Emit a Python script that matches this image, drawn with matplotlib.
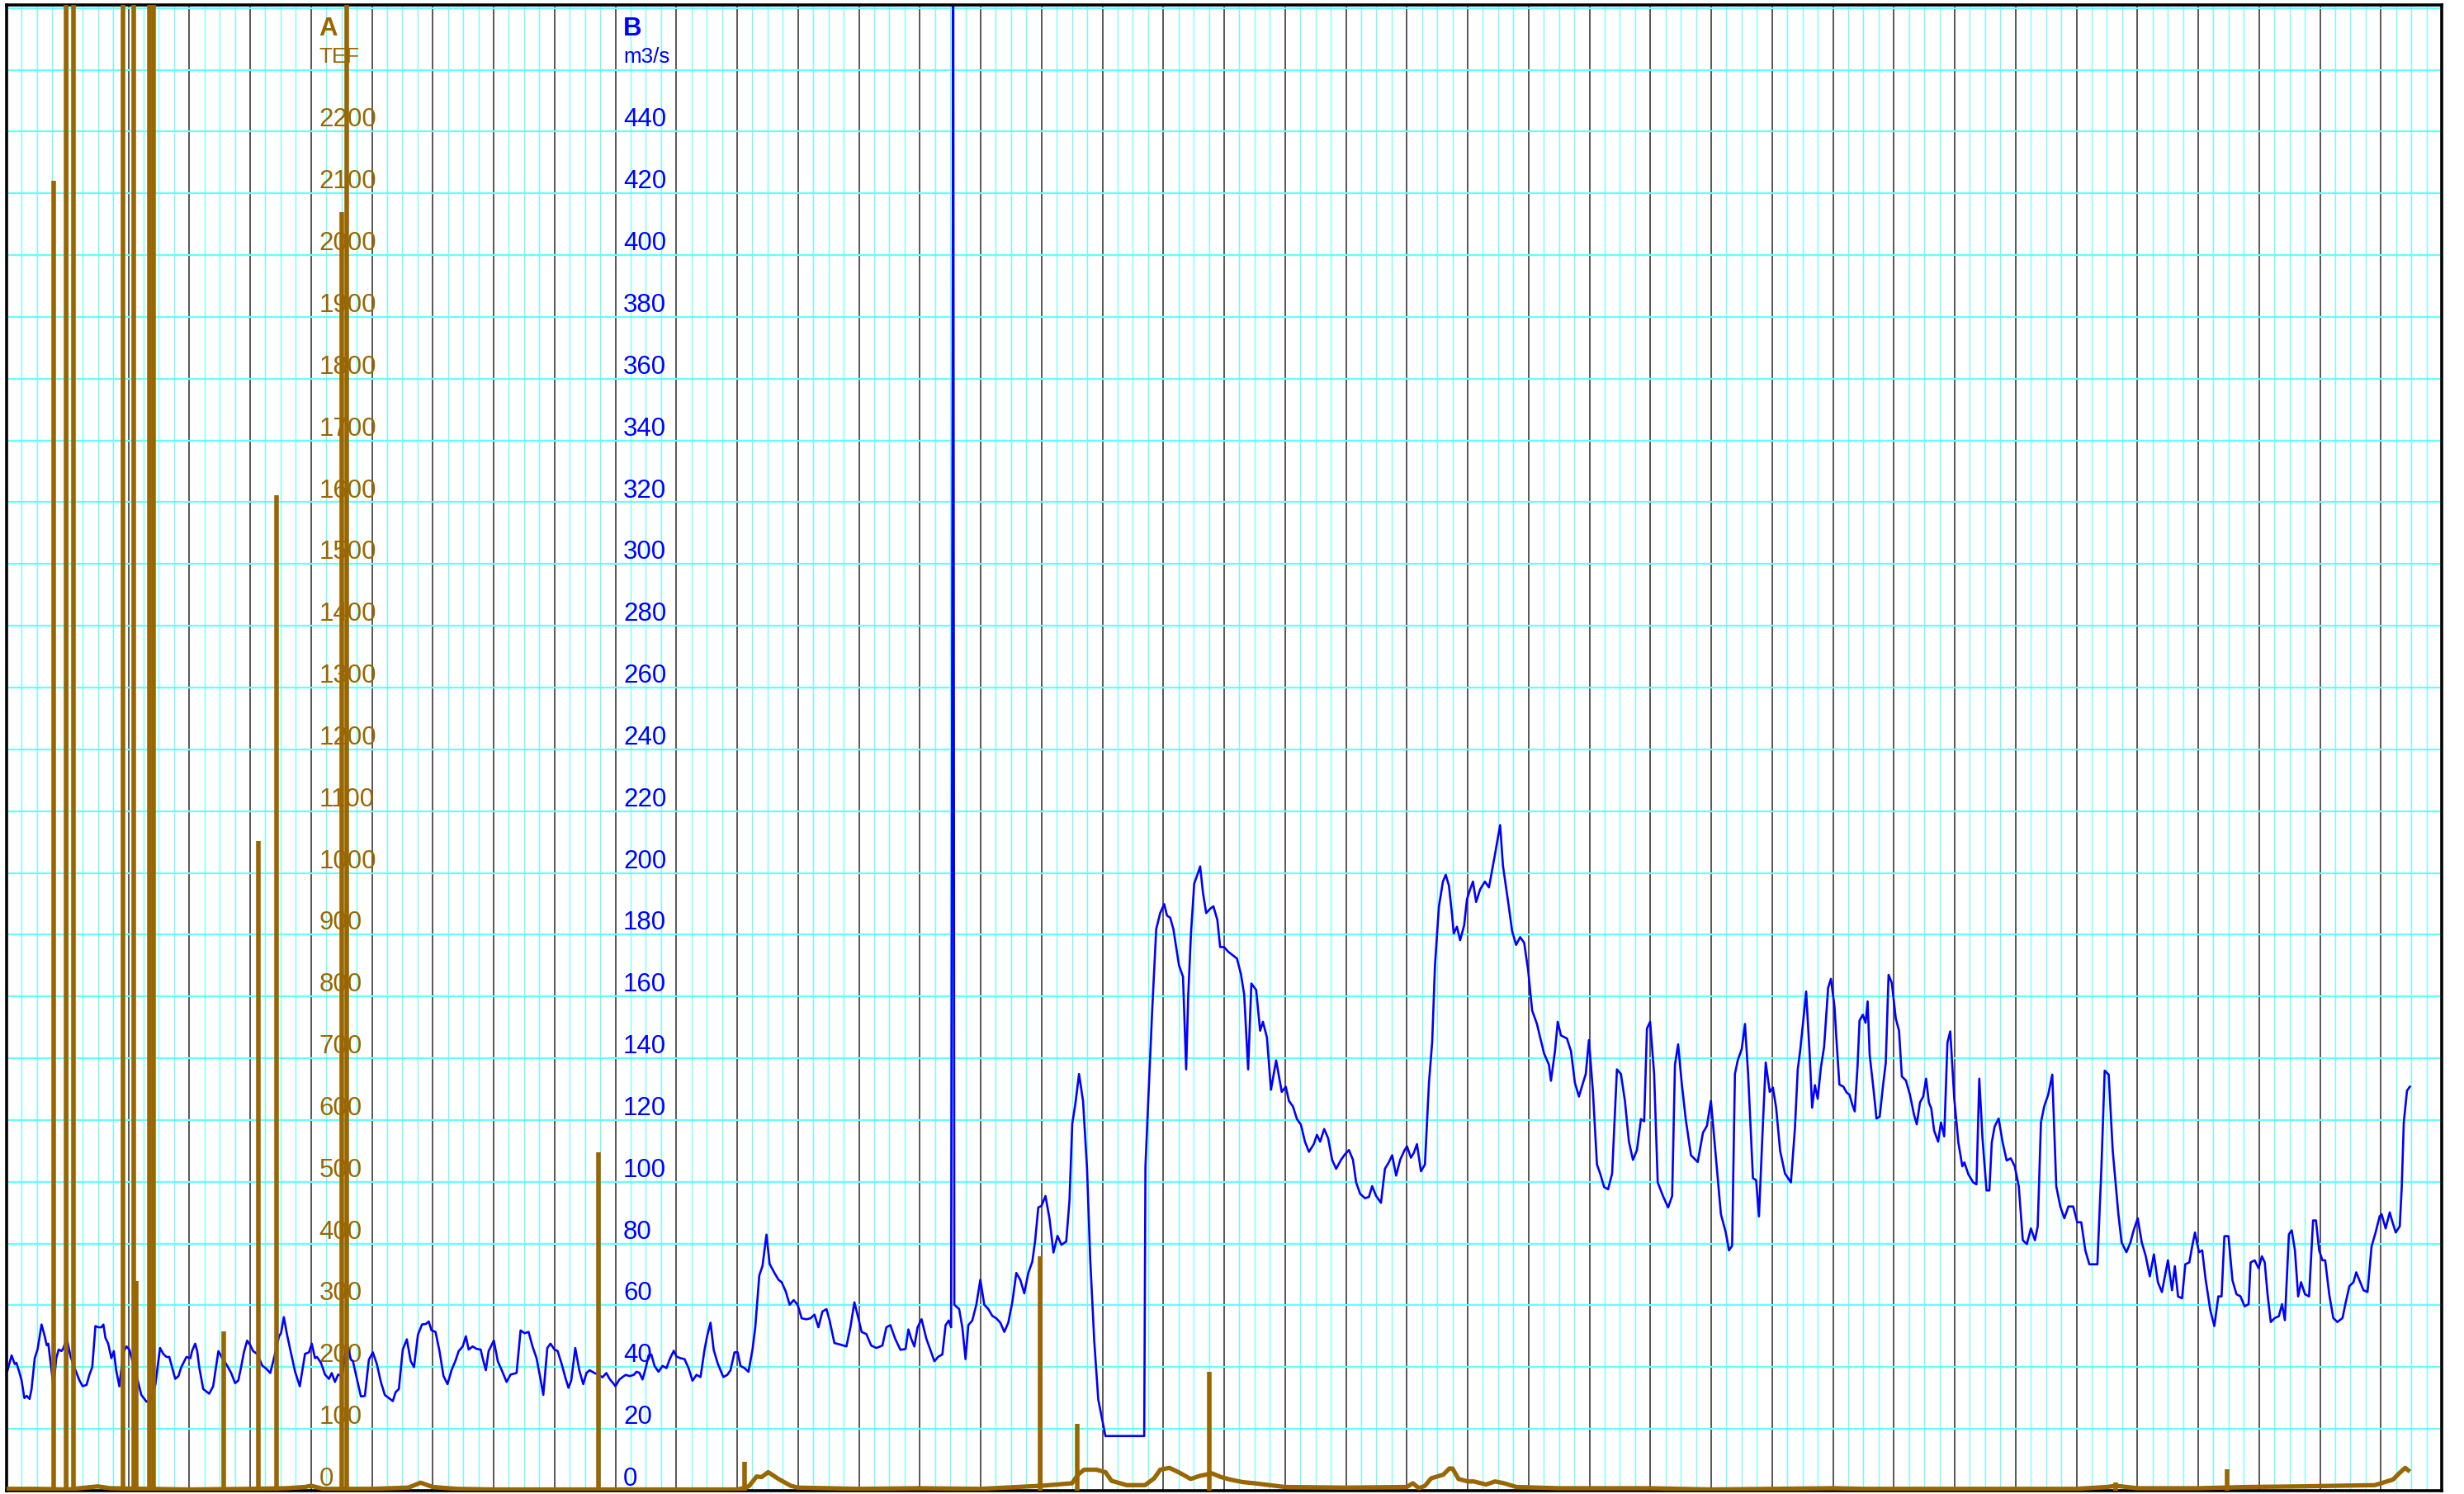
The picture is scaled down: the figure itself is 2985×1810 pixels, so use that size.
import matplotlib
matplotlib.use("Agg")
import matplotlib.pyplot as plt
from matplotlib.ticker import MultipleLocator

plt.rcParams['font.family'] = ['Liberation Sans', 'DejaVu Sans']

# x axis: days (one dark gridline per day), B = flow in m3/s (blue), A = TEF (brown)
flow_days = [
    0.016, 0.082, 0.134, 0.161, 0.213, 0.246, 0.292, 0.331, 0.377, 0.410,
    0.462, 0.508, 0.574, 0.620, 0.659, 0.685, 0.725, 0.770, 0.816, 0.856,
    0.902, 0.934, 0.987, 1.052, 1.131, 1.197, 1.249, 1.315, 1.361, 1.407,
    1.459, 1.511, 1.557, 1.590, 1.623, 1.669, 1.721, 1.761, 1.800, 1.852,
    1.918, 1.970, 2.016, 2.082, 2.148, 2.213, 2.298, 2.390, 2.443, 2.521,
    2.574, 2.626, 2.672, 2.718, 2.770, 2.823, 2.869, 2.954, 3.020, 3.046,
    3.098, 3.131, 3.164, 3.230, 3.328, 3.393, 3.439, 3.479, 3.544, 3.623,
    3.689, 3.754, 3.807, 3.852, 3.898, 3.951, 4.003, 4.049, 4.115, 4.200,
    4.266, 4.331, 4.397, 4.475, 4.508, 4.554, 4.607, 4.659, 4.738, 4.816,
    4.902, 4.967, 5.013, 5.066, 5.098, 5.164, 5.230, 5.295, 5.341, 5.393,
    5.446, 5.511, 5.590, 5.656, 5.689, 5.754, 5.820, 5.885, 5.951, 6.016,
    6.082, 6.148, 6.213, 6.279, 6.344, 6.390, 6.443, 6.508, 6.574, 6.639,
    6.692, 6.757, 6.823, 6.889, 6.934, 6.980, 7.046, 7.111, 7.177, 7.243,
    7.308, 7.374, 7.426, 7.492, 7.544, 7.590, 7.656, 7.721, 7.787, 7.820,
    7.872, 7.918, 8.003, 8.069, 8.134, 8.213, 8.279, 8.377, 8.443, 8.508,
    8.574, 8.639, 8.705, 8.770, 8.816, 8.882, 8.934, 9.000, 9.052, 9.118,
    9.184, 9.230, 9.275, 9.341, 9.407, 9.472, 9.525, 9.577, 9.656, 9.721,
    9.787, 9.852, 9.905, 9.984,
    10.000, 10.066, 10.118, 10.171, 10.236, 10.302, 10.348, 10.394, 10.446, 10.499,
    10.545, 10.591, 10.643, 10.709, 10.775, 10.840, 10.893, 10.959, 11.005, 11.070,
    11.136, 11.202, 11.267, 11.333, 11.399, 11.464, 11.510, 11.563, 11.615, 11.681,
    11.773, 11.838, 11.891, 11.957, 12.009, 12.055, 12.121, 12.186, 12.252, 12.298,
    12.364, 12.416, 12.482, 12.534, 12.613, 12.679, 12.731, 12.797, 12.863, 12.928,
    12.994, 13.060, 13.138, 13.204, 13.270, 13.335, 13.401, 13.467, 13.519, 13.598,
    13.697, 13.795, 13.861, 13.926, 13.992, 14.045, 14.123, 14.202, 14.288, 14.386,
    14.452, 14.517, 14.596, 14.682, 14.767, 14.813, 14.859, 14.911, 14.964, 15.030,
    15.108, 15.174, 15.240, 15.305, 15.371, 15.424, 15.476, 15.515, 15.550, 15.568,
    15.647, 15.699, 15.752, 15.798, 15.863, 15.929, 15.995, 16.060, 16.126, 16.192,
    16.257, 16.323, 16.389, 16.454, 16.520, 16.586, 16.651, 16.717, 16.783, 16.848,
    16.894, 16.947, 16.999, 17.065, 17.131, 17.196, 17.262, 17.328, 17.406, 17.459,
    17.505, 17.557, 17.616, 17.682, 17.748, 17.800, 17.866, 17.932, 18.050, 18.687,
    18.707, 18.753, 18.818, 18.884, 18.949, 19.015, 19.061, 19.114, 19.166, 19.212,
    19.258, 19.324, 19.376, 19.409, 19.455, 19.508, 19.560, 19.606, 19.652, 19.705,
    19.770, 19.823, 19.888, 19.934, 20.000, 20.066,
    20.145, 20.210, 20.276, 20.329, 20.394, 20.447, 20.526, 20.591, 20.637, 20.703,
    20.769, 20.854, 20.946, 21.012, 21.064, 21.130, 21.196, 21.261, 21.327, 21.393,
    21.472, 21.524, 21.577, 21.643, 21.708, 21.774, 21.840, 21.919, 21.984, 22.050,
    22.116, 22.168, 22.234, 22.313, 22.378, 22.431, 22.497, 22.576, 22.641, 22.707,
    22.760, 22.825, 22.891, 22.957, 23.003, 23.068, 23.114, 23.167, 23.233, 23.298,
    23.364, 23.417, 23.463, 23.528, 23.594, 23.640, 23.693, 23.745, 23.771, 23.824,
    23.876, 23.942, 23.988, 24.034, 24.087, 24.139, 24.205, 24.284, 24.350, 24.402,
    24.455, 24.533, 24.580, 24.665, 24.731, 24.796, 24.862, 24.928, 24.993, 25.059,
    25.138, 25.191, 25.256, 25.335, 25.368, 25.434, 25.480, 25.532, 25.631, 25.697,
    25.762, 25.828, 25.894, 25.940, 25.992, 26.058, 26.124, 26.176, 26.242, 26.307,
    26.373, 26.452, 26.518, 26.583, 26.649, 26.715, 26.781, 26.846, 26.899, 26.945,
    26.997, 27.063, 27.122, 27.208, 27.293, 27.359, 27.405, 27.457, 27.516, 27.582,
    27.668, 27.779, 27.865, 27.930, 27.996, 28.081, 28.160, 28.239, 28.292, 28.344,
    28.390, 28.436, 28.502, 28.555, 28.607, 28.686, 28.739, 28.785, 28.850, 28.896,
    28.962, 29.014, 29.067, 29.133, 29.212, 29.310, 29.376, 29.422, 29.461, 29.507,
    29.560, 29.619, 29.658, 29.704, 29.750, 29.803, 29.855, 29.921, 29.967,
    30.026, 30.053, 30.106, 30.172, 30.225, 30.272, 30.318, 30.358, 30.404, 30.437,
    30.490, 30.536, 30.570, 30.603, 30.669, 30.715, 30.768, 30.821, 30.868, 30.914,
    30.967, 31.033, 31.086, 31.132, 31.199, 31.265, 31.331, 31.377, 31.430, 31.483,
    31.530, 31.576, 31.616, 31.662, 31.728, 31.775, 31.828, 31.881, 31.927, 31.993,
    32.060, 32.126, 32.159, 32.225, 32.305, 32.358, 32.404, 32.457, 32.523, 32.570,
    32.609, 32.656, 32.722, 32.788, 32.854, 32.921, 32.987, 33.053, 33.119, 33.185,
    33.252, 33.318, 33.364, 33.417, 33.470, 33.536, 33.603, 33.669, 33.735, 33.801,
    33.868, 33.947, 34.013, 34.079, 34.146, 34.212, 34.278, 34.344, 34.411, 34.464,
    34.530, 34.596, 34.689, 34.742, 34.821, 34.887, 34.940, 35.007, 35.073, 35.139,
    35.205, 35.272, 35.338, 35.404, 35.503, 35.570, 35.616, 35.669, 35.735, 35.788,
    35.854, 35.901, 35.947, 36.013, 36.066, 36.119, 36.199, 36.265, 36.331, 36.384,
    36.430, 36.497, 36.563, 36.629, 36.695, 36.762, 36.828, 36.861, 36.927, 36.993,
    37.046, 37.093, 37.139, 37.192, 37.258, 37.325, 37.377, 37.424, 37.490, 37.536,
    37.589, 37.642, 37.689, 37.755, 37.821, 37.887, 37.934, 37.987, 38.040, 38.086,
    38.152, 38.219, 38.285, 38.371, 38.417, 38.483, 38.550, 38.596, 38.649, 38.715,
    38.781, 38.848, 38.914, 38.980, 39.013, 39.079, 39.146, 39.192, 39.245, 39.311,
    39.344, 39.377, 39.430, 39.477,
]
# 500 at day 15.55 = spike that runs off the top of the scale
flow_vals = [
    39.0, 43.8, 41.0, 41.4, 38.1, 35.7, 30.0, 30.7, 29.7, 32.9,
    42.9, 45.7, 53.8, 50.5, 47.1, 47.6, 41.0, 33.8, 42.9, 45.7,
    45.2, 46.2, 49.5, 43.3, 39.0, 35.7, 33.8, 34.3, 37.6, 40.0,
    53.3, 52.9, 52.9, 53.8, 49.5, 47.6, 42.9, 45.2, 39.0, 33.8,
    44.8, 46.7, 45.7, 41.0, 36.2, 31.0, 28.8, 30.0, 34.3, 46.2,
    44.3, 43.3, 43.3, 40.0, 36.2, 37.1, 40.0, 43.3, 42.9, 45.2,
    47.6, 45.2, 40.0, 32.9, 31.4, 33.8, 40.0, 45.2, 42.9, 40.5,
    38.1, 34.8, 35.7, 40.0, 44.8, 48.6, 47.1, 45.2, 44.3, 40.5,
    39.5, 38.1, 43.3, 50.0, 51.0, 56.2, 50.5, 45.7, 38.6, 33.8,
    44.3, 44.8, 47.6, 42.9, 43.3, 41.4, 37.6, 36.2, 38.1, 35.2,
    37.6, 37.1, 47.6, 42.4, 41.9, 36.2, 30.5, 30.7, 42.4, 44.8,
    41.0, 35.2, 31.0, 30.0, 29.0, 31.9, 32.9, 45.7, 49.0, 41.9,
    40.0, 50.5, 53.8, 54.0, 54.8, 51.9, 51.4, 45.2, 37.1, 34.5,
    39.0, 42.1, 45.2, 46.7, 50.0, 45.7, 46.7, 45.9, 45.7, 42.9,
    39.0, 45.2, 48.6, 41.9, 39.0, 35.2, 37.6, 38.1, 51.9, 51.0,
    51.4, 46.7, 42.9, 36.2, 31.0, 46.2, 47.6, 45.7, 45.2, 41.0,
    36.2, 33.3, 35.7, 46.2, 39.0, 34.5, 38.1, 39.0, 38.1, 37.6,
    36.7, 38.1, 36.2, 34.3,
    33.8, 36.0, 36.8, 37.5, 37.1, 37.5, 38.5, 38.2, 36.0, 39.7,
    43.8, 44.1, 40.4, 38.5, 40.4, 39.7, 42.6, 45.3, 43.4, 42.9,
    42.6, 39.7, 35.6, 37.5, 36.8, 45.6, 50.3, 54.4, 45.6, 41.2,
    36.8, 37.5, 39.0, 44.8, 44.8, 40.4, 39.7, 38.5, 45.6, 52.9,
    69.7, 72.7, 82.9, 73.4, 70.5, 68.3, 67.5, 64.6, 60.2, 61.7,
    60.2, 55.8, 55.5, 55.8, 57.0, 52.9, 58.0, 58.8, 55.1, 47.8,
    47.3, 46.7, 52.9, 61.0, 55.8, 51.4, 50.7, 47.0, 46.2, 47.0,
    52.9, 53.6, 49.2, 45.6, 45.9, 52.2, 49.2, 46.7, 52.9, 55.5,
    49.2, 45.6, 41.9, 43.4, 44.1, 53.6, 55.1, 52.9, 500.0, 60.2,
    58.8, 52.9, 42.6, 53.6, 55.1, 60.2, 68.3, 60.2, 58.8, 56.6,
    55.8, 54.4, 51.4, 54.4, 61.0, 70.5, 68.3, 63.9, 70.5, 74.1,
    80.7, 91.7, 92.2, 95.4, 88.1, 77.1, 82.5, 79.6, 80.7, 93.9,
    118.8, 125.4, 134.9, 126.2, 104.2, 74.9, 48.5, 29.5, 17.7, 17.7,
    104.9, 126.2, 155.5, 181.8, 187.0, 189.9, 186.2, 185.5, 181.8, 176.0,
    170.1, 166.4, 136.4, 159.9, 180.4, 196.5, 199.4, 202.1, 193.6, 187.0,
    188.4, 189.2, 184.8, 176.0, 176.0, 174.5,
    173.3, 172.3, 167.2, 160.6, 136.4, 164.2, 162.1, 148.9, 151.8, 146.7,
    129.8, 139.3, 129.1, 130.8, 126.2, 124.4, 120.3, 118.5, 113.0, 109.7,
    112.2, 115.2, 113.0, 117.1, 114.1, 107.1, 104.2, 107.1, 108.9, 110.3,
    107.1, 99.8, 96.1, 94.7, 95.1, 98.6, 95.4, 93.2, 104.2, 106.4,
    108.6, 102.0, 107.1, 110.0, 111.5, 107.8, 109.3, 112.2, 103.4, 105.6,
    132.0, 145.2, 170.1, 189.2, 197.2, 199.4, 195.8, 186.2, 180.4, 182.6,
    178.2, 183.0, 191.4, 194.3, 197.2, 190.6, 194.7, 197.2, 195.3, 200.9,
    206.7, 215.5, 202.3, 190.6, 181.1, 176.7, 179.2, 177.4, 168.6, 155.5,
    151.1, 146.7, 141.5, 137.9, 132.7, 142.3, 151.8, 147.4, 146.4, 142.3,
    132.0, 127.6, 132.0, 134.9, 145.9, 129.1, 105.6, 102.7, 98.3, 97.6,
    102.7, 136.4, 134.9, 126.2, 113.0, 107.1, 110.3, 120.3, 119.6, 149.6,
    151.8, 134.9, 99.8, 95.4, 91.7, 95.4, 137.9, 144.5, 132.0, 120.3,
    108.6, 106.4, 115.9, 118.1, 126.2, 107.1, 89.5, 83.7, 77.8, 79.3,
    134.9, 139.3, 143.0, 151.1, 134.9, 101.2, 100.5, 88.8, 118.8, 138.6,
    129.1, 130.5, 124.0, 110.0, 102.7, 99.8, 117.4, 136.4, 142.3, 151.1,
    161.6, 140.8, 124.0, 131.3, 126.9, 137.1, 143.7, 162.8, 165.7,
    156.7, 147.6, 131.5, 130.8, 128.9, 128.2, 125.0, 122.8, 137.3, 152.2,
    154.1, 151.5, 158.4, 141.2, 129.5, 120.5, 121.1, 130.8, 138.6, 167.0,
    164.4, 152.8, 148.9, 134.1, 132.8, 128.2, 121.8, 118.6, 125.7, 127.6,
    133.4, 125.7, 123.7, 116.6, 113.0, 119.2, 114.7, 145.1, 148.7, 127.0,
    112.7, 105.0, 106.3, 102.4, 99.8, 99.2, 133.4, 114.0, 97.2, 97.2,
    112.7, 117.9, 120.5, 112.7, 106.9, 107.6, 105.0, 98.5, 81.1, 79.8,
    84.9, 81.1, 85.6, 119.2, 124.4, 128.2, 134.7, 98.5, 92.0, 88.2,
    92.0, 92.0, 86.9, 86.9, 77.8, 73.3, 73.3, 73.3, 105.0, 136.0,
    134.7, 110.1, 89.5, 80.4, 77.2, 80.4, 84.3, 88.2, 80.4, 75.9,
    69.4, 76.5, 67.5, 64.3, 74.6, 64.9, 72.7, 62.9, 62.3, 73.3,
    73.9, 79.1, 83.6, 77.2, 77.8, 68.8, 58.4, 53.3, 62.9, 62.9,
    82.4, 82.4, 68.1, 63.6, 62.9, 59.7, 60.4, 73.9, 74.6, 72.0,
    75.9, 73.9, 63.6, 54.6, 55.9, 56.5, 60.4, 55.2, 83.0, 84.3,
    77.8, 62.9, 67.5, 63.6, 62.9, 87.5, 87.5, 77.8, 74.6, 74.6,
    63.6, 55.9, 54.6, 55.9, 60.4, 66.2, 67.5, 70.7, 68.1, 64.9,
    64.3, 79.1, 83.6, 88.8, 89.5, 84.9, 90.1, 86.9, 83.6, 85.6,
    98.5, 119.2, 129.5, 130.8,
]

# TEF background level
tef_days = [0.0, 0.5, 1.0, 1.5, 1.7, 2.3, 3.0, 4.0, 4.6, 4.9, 5.0, 5.2, 6.0, 6.6, 6.8,
            7.0, 7.4, 8.0, 9.0, 10.0, 11.0, 12.0, 12.15, 12.2, 12.32, 12.4, 12.51, 12.68,
            12.88, 13.0, 13.5, 14.0, 15.0, 16.0, 17.0, 17.5, 17.6, 17.7, 17.9, 18.05,
            18.15, 18.4, 18.7, 18.85, 18.95, 19.1, 19.25, 19.45, 19.6, 19.8, 19.95, 20.1,
            20.3, 20.5, 21.0, 22.0, 23.0, 23.1, 23.2, 23.3, 23.4, 23.6, 23.7, 23.75, 23.85,
            24.0, 24.1, 24.3, 24.45, 24.6, 24.8, 25.5, 26.0, 27.0, 28.0, 29.0, 30.0, 30.5,
            31.0, 32.0, 33.0, 34.0, 34.5, 34.65, 35.0, 36.0, 36.8, 37.7, 38.3, 38.9, 39.2,
            39.3, 39.4, 39.45]
tef_vals = [3, 3, 2, 7, 4, 3, 2, 3, 4, 6, 8, 3, 3, 5, 13,
            6, 3, 2, 2, 2, 2, 2, 5, 8, 23, 22, 30, 19,
            8, 5, 4, 3, 4, 3, 8, 12, 26, 34, 34, 30,
            16, 9, 9, 20, 34, 37, 30, 19, 24, 28, 22, 18,
            14, 12, 6, 5, 6, 12, 4, 8, 20, 26, 36, 36, 19,
            15, 15, 10, 15, 12, 6, 4, 4, 4, 2, 3, 4, 3,
            3, 3, 3, 3, 6, 8, 4, 4, 6, 7, 8, 9, 18,
            28, 37, 33]

# TEF spikes; 2600 = runs off the top of the scale
spike_days = [0.77, 0.98, 1.10, 1.91, 2.09, 2.13, 2.34, 2.41, 3.56, 4.14, 4.44,
              5.51, 5.59, 9.72, 12.12, 16.98, 17.58, 19.76, 34.64, 36.48]
spike_vals = [2120, 2600, 2600, 2600, 2600, 340, 2600, 2600, 258, 1052, 1611,
              2070, 2600, 548, 47, 380, 108, 192, 14, 35]

tef_ticks = list(range(0, 2300, 100))
flow_ticks = list(range(0, 460, 20))

BROWN = "#996600"
BLUE = "#0000ff"
CYAN = "#66ffff"

W, H = 2985, 1810
fig = plt.figure(figsize=(W / 100, H / 100), dpi=100)
ax = fig.add_axes([8 / W, 4 / H, 2950 / W, 1800 / H])
ax2 = ax.twinx()

ax.set_xlim(0, 40)
ax.set_ylim(0, 481)
ax2.set_ylim(0, 2405)

ax.xaxis.set_major_locator(MultipleLocator(1))
ax.xaxis.set_minor_locator(MultipleLocator(0.25))
ax.yaxis.set_major_locator(MultipleLocator(20))
ax.set_axisbelow(True)
ax.grid(which='minor', axis='x', color=CYAN, lw=0.9)
ax.grid(which='major', axis='x', color='#2a2a2a', lw=1.1)
ax.grid(which='major', axis='y', color=CYAN, lw=1.6)
ax.tick_params(which='both', length=0, labelbottom=False, labelleft=False)
ax2.tick_params(which='both', length=0, labelright=False)
for s in ax.spines.values():
    s.set_linewidth(2.6)
    s.set_color('black')
for s in ax2.spines.values():
    s.set_visible(False)

# scale labels drawn inside the plot
xa, xb = 5.13, 10.13
for v in tef_ticks:
    ax.text(xa, v + 8, str(v), transform=ax2.transData, color=BROWN,
            fontsize=22.5, ha='left', va='baseline', zorder=1)
for v in flow_ticks:
    ax.text(xb, v + 1.6, str(v), color=BLUE, fontsize=22.5,
            ha='left', va='baseline', zorder=1)
ax.text(xa, 2355, 'A', transform=ax2.transData, color=BROWN, fontsize=22.5,
        fontweight='bold', ha='left', va='baseline', zorder=1)
ax.text(xa, 2311, 'TEF', transform=ax2.transData, color=BROWN, fontsize=18.7,
        ha='left', va='baseline', zorder=1)
ax.text(xb, 471, 'B', color=BLUE, fontsize=22.5, fontweight='bold',
        ha='left', va='baseline', zorder=1)
ax.text(xb, 462.2, 'm3/s', color=BLUE, fontsize=18.7, ha='left', va='baseline', zorder=1)

ax.plot(flow_days, flow_vals, color=BLUE, lw=1.9, zorder=2)
ax2.plot(tef_days, tef_vals, color=BROWN, lw=3.8, solid_joinstyle='round')
ax2.vlines(spike_days, 0, spike_vals, color=BROWN, lw=4.0)

fig.savefig('out.png', dpi=100)
